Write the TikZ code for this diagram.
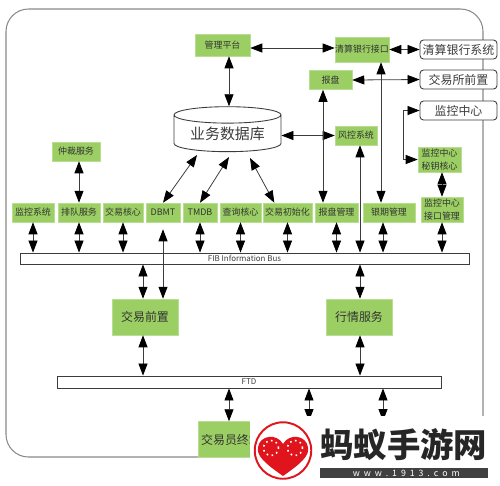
\documentclass[tikz,border=0pt]{standalone}
\usepackage{fontspec}
\newfontfamily\cjk{Noto Sans CJK SC}
\usetikzlibrary{arrows.meta,positioning,calc,shapes.geometric}
\definecolor{boxgreen}{HTML}{9BCF63}
\definecolor{framegray}{HTML}{8A8A8A}
\definecolor{inkgray}{HTML}{3C3C3C}
\definecolor{markred}{HTML}{E0141C}

\begin{document}
\begin{tikzpicture}[x=0.02cm,y=-0.02cm,font=\cjk,
  dbl/.style={{Triangle[length=2.4mm,width=1.8mm,color=black]}-{Triangle[length=2.4mm,width=1.8mm,color=black]},draw=inkgray,line width=0.45pt},
  sgl/.style={-{Triangle[length=2.4mm,width=1.8mm,color=black]},draw=inkgray,line width=0.45pt},
  box/.style={fill=boxgreen,draw=boxgreen!70!white,line width=0.3pt,inner sep=0pt,text=black!80,font=\cjk\fontsize{5.1}{7}\selectfont,align=center},
  bigbox/.style={box,minimum width=1.32cm,minimum height=0.72cm,font=\cjk\fontsize{6.8}{8}\selectfont},
  ext/.style={draw=inkgray,fill=white,rounded corners=2pt,line width=0.5pt,minimum width=1.54cm,minimum height=0.38cm,inner sep=0pt,text=inkgray,font=\cjk\fontsize{6.8}{8}\selectfont},
  busbar/.style={draw=inkgray,fill=white,line width=0.5pt,inner sep=0pt,text=inkgray,font=\cjk\fontsize{4.5}{5}\selectfont}]
\useasboundingbox (0,0) rectangle (500,485);
\fill[white] (0,0) rectangle (500,485);

% ===== outer frame =====
\draw[framegray,line width=0.6pt,rounded corners=0.45cm] (6,9) rectangle (483,457);

% ===== top row =====
\node[box,minimum width=1.1cm,minimum height=0.44cm] (mgmt) at (222.5,45) {管理平台};
\node[box,minimum width=1.08cm,minimum height=0.5cm] (clear) at (362,49.5) {清算银行接口};
\node[ext] (clearsys) at (458.5,49.5) {清算银行系统};
\node[ext] (exfront) at (458.5,79.5) {交易所前置};
\node[ext] (monctr) at (458.5,110.5) {监控中心};
\node[box,minimum width=0.86cm,minimum height=0.38cm] (offer) at (330.5,80) {报盘};

% ===== database =====
\node[cylinder,shape border rotate=90,aspect=0.22,draw=inkgray,fill=white,line width=0.5pt,
      minimum width=2.14cm,minimum height=0.9cm,inner sep=0pt,text=inkgray,
      font=\cjk\fontsize{8.5}{10}\selectfont] (db) at (227.5,133.5) {业务数据库};
\coordinate (dba) at (197,155);
\coordinate (dbb) at (229,157);
\coordinate (dbc) at (250,158);
\node[box,minimum width=0.84cm,minimum height=0.38cm] (risk) at (356,135.5) {风控系统};
\node[box,minimum width=0.96cm,minimum height=0.38cm] (arb) at (76,151.5) {仲裁服务};
\node[box,minimum width=0.86cm,minimum height=0.5cm] (seckey) at (439.5,159.5) {监控中心\\秘钥核心};

% ===== service row =====
\node[box,minimum width=0.84cm,minimum height=0.38cm] (mon) at (33,212.5) {监控系统};
\node[box,minimum width=0.84cm,minimum height=0.38cm] (queue) at (79,212.5) {排队服务};
\node[box,minimum width=0.8cm,minimum height=0.38cm] (core) at (123,212.5) {交易核心};
\node[box,minimum width=0.68cm,minimum height=0.38cm] (dbmt) at (163,212.5) {DBMT};
\node[box,minimum width=0.68cm,minimum height=0.38cm] (tmdb) at (200,212.5) {TMDB};
\node[box,minimum width=0.82cm,minimum height=0.38cm] (query) at (240.5,212.5) {查询核心};
\node[box,minimum width=0.98cm,minimum height=0.38cm] (init) at (287.5,212.5) {交易初始化};
\node[box,minimum width=0.86cm,minimum height=0.38cm] (offermgr) at (336.5,212.5) {报盘管理};
\node[box,minimum width=1.04cm,minimum height=0.38cm] (futures) at (389,212.5) {银期管理};
\node[box,minimum width=0.84cm,minimum height=0.5cm] (ifmgr) at (442,209.5) {监控中心\\接口管理};

% ===== buses and lower boxes =====
\node[busbar,minimum width=8.98cm,minimum height=0.22cm] (fib) at (244.5,258.5) {FIB Information Bus};
\node[bigbox] (front) at (145,317) {交易前置};
\node[bigbox] (quote) at (359,317) {行情服务};
\node[busbar,minimum width=7.68cm,minimum height=0.24cm] (ftd) at (249,382) {FTD};
\node[bigbox,minimum height=0.72cm] (term) at (231,439.5) {交易员终端};
\coordinate (lowa) at (309,421);
\coordinate (lowb) at (383,421);
\coordinate (moncorner) at (403,110.5);

% ===== arrows =====
\draw[dbl] (mgmt.south -| dbb) -- (db.north -| dbb);
\draw[dbl] (mgmt.east |- 0,48) -- (clear.west |- 0,48);
\draw[dbl] (clear.east) -- (clearsys.west);
\draw[dbl] (offer.east) -- (exfront.west);
\draw[dbl] (db.east |- risk.west) -- (risk.west);
\draw[sgl] (moncorner) -- (monctr.west);
\draw[sgl] (moncorner) |- (seckey.west);
\draw[dbl] (seckey.south -| ifmgr.north) -- (ifmgr.north);
\draw[dbl] (arb.south -| queue.north) -- (queue.north);
\draw[dbl] (dba) -- (dbmt.north);
\draw[dbl] (dbb) -- (tmdb.north);
\draw[dbl] (dbc) -- ([xshift=-7.5pt]init.north);
\draw[dbl] (offer.south -| 323,0) -- (offermgr.north -| 323,0);
\draw[dbl] (clear.south -| 381,0) -- (futures.north -| 381,0);
\draw[dbl] (risk.south -| 360,0) -- (fib.north -| 360,0);
\draw[dbl] (dbmt.south) ++(0,7) -- (front.north -| dbmt.south);
% down to the information bus
\foreach \n in {mon,queue,core,tmdb,query,init,offermgr,ifmgr}{
  \draw[dbl] (\n.south) -- (\n.south |- fib.north);}
\draw[dbl] (futures.south -| 383,0) -- (fib.north -| 383,0);
\draw[dbl] (fib.south -| 143,0) -- (front.north -| 143,0);
\draw[dbl] (front.south -| 143,0) -- (ftd.north -| 143,0);
\draw[dbl] (fib.south -| 360,0) -- (quote.north -| 360,0);
\draw[dbl] (quote.south -| 360,0) -- (ftd.north -| 360,0);
\draw[dbl] (ftd.south -| 229,0) -- (term.north -| 229,0);
\draw[dbl] (ftd.south -| lowa) -- (lowa);
\draw[dbl] (ftd.south -| lowb) -- (lowb);

% ===== site mark =====
\fill[white] (250,416) rectangle (500,485);
\node[circle,draw=markred,line width=1.1pt,fill=white,minimum size=1.13cm,inner sep=0pt] (mark) at (283,450.5) {};
\fill[markred] (283,476) .. controls (266,464) and (256,456) .. (258,447)
  .. controls (260,435) and (277,433) .. (283,444)
  .. controls (289,433) and (306,435) .. (308,447)
  .. controls (310,456) and (300,464) .. (283,476) -- cycle;
\node[circle,draw=white,dotted,line width=0.9pt,minimum size=0.3cm,inner sep=0pt] (markl) at (271,448) {};
\node[circle,draw=white,dotted,line width=0.9pt,minimum size=0.3cm,inner sep=0pt] (markr) at (295,448) {};
\node[anchor=west,inner sep=0pt,text=black!85,font=\cjk\bfseries\fontsize{19}{21}\selectfont] (sitename) at (320,445) {蚂蚁手游网};
\node[anchor=west,fill=black!75,text=white,minimum width=3.36cm,minimum height=0.2cm,inner sep=0pt,
      font=\cjk\fontsize{5}{6}\selectfont] (siteurl) at (320,473) {\ \ w\ \ w\ \ w\ \ .\ \ 1\ \ 9\ \ 1\ \ 3\ \ .\ \ c\ \ o\ \ m};

\end{tikzpicture}
\end{document}
